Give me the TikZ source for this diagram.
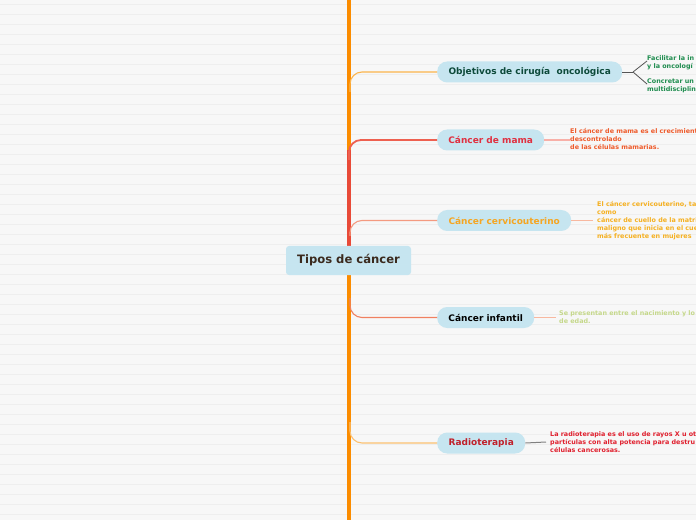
\documentclass[tikz,border=0pt]{standalone}
\usepackage{fontspec}
\setmainfont{DejaVu Sans}
\definecolor{bgc}{HTML}{F7F7F7}
\definecolor{bgline}{HTML}{EEEEEE}
\definecolor{nodeblue}{HTML}{C6E5F0}
\definecolor{trunk}{HTML}{FB8C00}
\definecolor{trunkred}{HTML}{E84A38}
\definecolor{brobj}{HTML}{FBB44C}
\definecolor{brmama}{HTML}{EE6050}
\definecolor{brcerv}{HTML}{F49A80}
\definecolor{brinf}{HTML}{F08060}
\definecolor{brradio}{HTML}{FBC070}
\definecolor{tcenter}{HTML}{3B2A1E}
\definecolor{tobj}{HTML}{0D4A3A}
\definecolor{tmama}{HTML}{E03040}
\definecolor{tcerv}{HTML}{F5A623}
\definecolor{tradio}{HTML}{C0202A}
\definecolor{nobj}{HTML}{1E8C4E}
\definecolor{nmama}{HTML}{EE5A2A}
\definecolor{ncerv}{HTML}{F5B020}
\definecolor{ninf}{HTML}{C5D88A}
\definecolor{nradio}{HTML}{E0202E}
\definecolor{lmama}{HTML}{F8B0A8}
\definecolor{lcerv}{HTML}{F8B8A0}
\definecolor{gline}{HTML}{555555}
\begin{document}
\begin{tikzpicture}[x=1bp,y=-1bp,
  pill/.style={fill=nodeblue, rounded corners=10bp, minimum height=21bp, inner sep=0pt,
    font=\bfseries\fontsize{9bp}{11bp}\selectfont, anchor=west},
  note/.style={anchor=north west, align=left, inner sep=0pt,
    font=\bfseries\fontsize{6.4bp}{8bp}\selectfont},
  branch/.style={line width=1.1bp, rounded corners=12bp}]
\clip (0,0) rectangle (696,520);
\fill[bgc] (0,0) rectangle (696,520);
\foreach \k in {0,...,51} {
  \draw[bgline, line width=0.8bp] (0,{4+10*\k}) -- (696,{4+10*\k});
}
% trunk
\draw[trunk, line width=4bp] (349,0) -- (349,520);
\draw[trunkred, line width=4bp] (349,247) -- (349,150);

% nodes
\node[fill=nodeblue, rounded corners=3bp, minimum width=125bp, minimum height=29bp,
  inner sep=0pt, text=tcenter, font=\bfseries\fontsize{11.6bp}{13bp}\selectfont]
  (center) at (348.5,260.5) {Tipos de cáncer};
\node[pill, minimum width=185bp, text=tobj] (obj) at (437,72) {Objetivos de cirugía\ \ oncológica};
\node[pill, minimum width=107bp, text=tmama] (mama) at (437,140) {Cáncer de mama};
\node[pill, minimum width=134bp, text=tcerv] (cerv) at (437,220.5) {Cáncer cervicouterino};
\node[pill, minimum width=97bp, text=black] (inf) at (437,317.5) {Cáncer infantil};
\node[pill, minimum width=88bp, text=tradio] (radio) at (437,443) {Radioterapia};

% branches
\coordinate (bobj) at (350,92);
\coordinate (bmama) at (349,160);
\coordinate (bcerv) at (350,236);
\coordinate (binf) at (350,298);
\coordinate (bradio) at (350,422);
\draw[branch, brobj] (bobj) |- (obj.west);
\draw[branch, brmama, line width=1.8bp] (bmama) |- (mama.west);
\draw[branch, brcerv] (bcerv) |- (cerv.west);
\draw[branch, brinf] (binf) |- (inf.west);
\draw[branch, brradio] (bradio) |- (radio.west);

% notes
\node[note, text=nobj] (o1) at (647,55) {Facilitar la in\\y la oncologí};
\node[note, text=nobj] (o2) at (647,79) {Concretar un\\multidisciplin};
\node[note, text=nmama] (m1) at (570,128.5) {El cáncer de mama es el crecimient\\descontrolado\\de las células mamarias.};
\node[note, text=ncerv] (c1) at (597,201.5) {El cáncer cervicouterino, ta\\como\\cáncer de cuello de la matri\\maligno que inicia en el cue\\más frecuente en mujeres};
\node[note, text=ninf] (i1) at (559,310.5) {Se presentan entre el nacimiento y lo\\de edad.};
\node[note, text=nradio] (r1) at (550,431.5) {La radioterapia es el uso de rayos X u ot\\partículas con alta potencia para destru\\células cancerosas.};

% note connectors
\coordinate (ofork) at (633,72);
\draw[gline, line width=0.8bp] (obj.east) -- (ofork);
\draw[gline, line width=0.8bp] (ofork) -- (o1.west |- 0,61) ;
\draw[gline, line width=0.8bp] (ofork) -- (o2.west |- 0,84);
\draw[lmama, line width=1.5bp] (mama.east) -- (m1.west |- mama.east);
\draw[lcerv, line width=1.2bp] (cerv.east) -- ([xshift=-4bp]c1.west |- cerv.east);
\draw[lcerv, line width=1.2bp] (inf.east) -- ([xshift=-3bp]i1.west |- inf.east);
\draw[gray, line width=1bp] (radio.east) -- ([xshift=-4bp]r1.west |- 0,442);
\end{tikzpicture}
\end{document}
